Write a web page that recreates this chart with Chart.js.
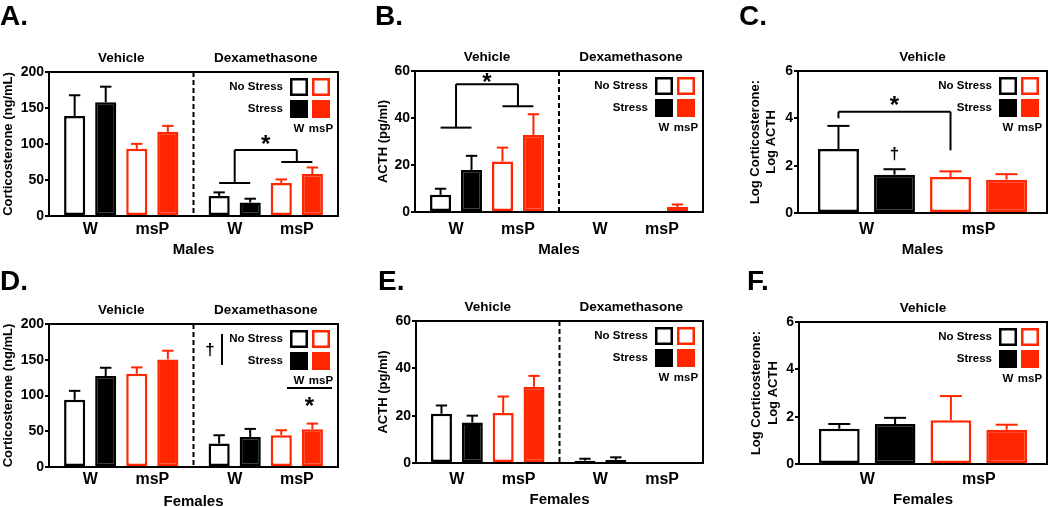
<!DOCTYPE html>
<html>
<head>
<meta charset="utf-8">
<script src="https://cdn.jsdelivr.net/npm/chart.js@4.4.1/dist/chart.umd.min.js"></script>
<style>
  html, body { margin: 0; padding: 0; background: #fff; }
  #fig { position: relative; width: 1050px; height: 507px; overflow: hidden; }
  #fig canvas { position: absolute; }
</style>
</head>
<body>
<div id="fig">
  <canvas id="chartA"></canvas>
  <canvas id="chartB"></canvas>
  <canvas id="chartC"></canvas>
  <canvas id="chartD"></canvas>
  <canvas id="chartE"></canvas>
  <canvas id="chartF"></canvas>
</div>
<script>
// ---- data ----
var treatments = ['Vehicle', 'Dexamethasone'];
var vehicleOnly = ['Vehicle'];
var strains = ['W', 'msP'];
var seriesNames = ['W No Stress', 'W Stress', 'msP No Stress', 'msP Stress'];
var legendRows = ['No Stress', 'Stress'];

// rows: W no stress, W stress, msP no stress, msP stress ; columns follow the treatment list
var maleCortMean = [[139, 27.7], [158, 18.9], [93.3, 45.7], [116.9, 58.2]];
var maleCortSem = [[28.7, 5.1], [21.6, 5.1], [6.9, 5.1], [8.3, 9.2]];
var maleActhMean = [[7.3, 0.3], [17.9, 0.3], [21.5, 0], [32.8, 2.1]];
var maleActhSem = [[2.6, 0], [6.0, 0], [5.9, 0], [8.8, 1.1]];
var maleRatioMean = [[2.70], [1.62], [1.52], [1.41]];
var maleRatioSem = [[0.98], [0.23], [0.24], [0.23]];

var femaleCortMean = [[93.9, 32.7], [127.1, 42.0], [130.4, 44.4], [150.5, 52.8]];
var femaleCortSem = [[12.6, 11.7], [11.7, 11.3], [8.9, 7.0], [12.1, 7.9]];
var femaleActhMean = [[20.8, 1.0], [17.1, 1.3], [21.1, 0], [32.2, 0]];
var femaleActhSem = [[3.5, 0.8], [2.9, 1.1], [7.0, 0], [4.6, 0]];
var femaleRatioMean = [[1.49], [1.69], [1.85], [1.45]];
var femaleRatioSem = [[0.20], [0.26], [1.02], [0.21]];

// ---- style ----
var FONT = "'Liberation Sans', Arial, Helvetica, sans-serif";
var RED = '#ff2600';
var seriesLine = ['#000', '#000', RED, RED];
var seriesFill = ['#fff', '#000', '#fff', RED];

function line(ctx, x1, y1, x2, y2) {
    ctx.beginPath();
    ctx.moveTo(x1, y1);
    ctx.lineTo(x2, y2);
    ctx.stroke();
}

function drawStar(ctx, x, cy) {
    ctx.font = 'bold 24px ' + FONT;
    ctx.textAlign = 'center';
    ctx.textBaseline = 'alphabetic';
    ctx.fillText('*', x, cy + 13.8);
}

function drawDagger(ctx, x, baseline) {
    ctx.font = 'bold 17px ' + FONT;
    ctx.textAlign = 'center';
    ctx.textBaseline = 'alphabetic';
    ctx.fillText('\u2020', x, baseline);
}

function drawExtras(chart, p) {
    var ctx = chart.ctx;
    var a = chart.chartArea;
    var x = chart.scales.x;
    var y = chart.scales.y;
    ctx.save();
    ctx.fillStyle = '#000';
    ctx.strokeStyle = '#000';

    // dashed divider between treatments
    if (p.labels.length > 1) {
        var mx = (x.getPixelForValue(0) + x.getPixelForValue(1)) / 2;
        ctx.lineWidth = 2;
        ctx.setLineDash([5, 3]);
        line(ctx, mx, a.top, mx, a.bottom);
        ctx.setLineDash([]);
    }

    // error bars (upper only)
    p.sem.forEach(function(row, d) {
        var meta = chart.getDatasetMeta(d);
        ctx.strokeStyle = seriesLine[d];
        ctx.lineWidth = 2;
        row.forEach(function(e, c) {
            if (!e) return;
            var bar = meta.data[c];
            var top = y.getPixelForValue(p.mean[d][c] + e);
            var half = bar.width * 0.27;
            line(ctx, bar.x, bar.y, bar.x, top);
            line(ctx, bar.x - half, top, bar.x + half, top);
        });
    });

    // frame
    ctx.strokeStyle = '#000';
    ctx.lineWidth = 2;
    ctx.strokeRect(a.left, a.top, a.right - a.left, a.bottom - a.top);

    // significance brackets
    (p.brackets || []).forEach(function(b) {
        var ends = b.ends.map(function(e) {
            var xs = e.ds.map(function(d) { return chart.getDatasetMeta(d).data[b.cat].x; });
            var ey = y.getPixelForValue(e.y);
            if (xs.length > 1) line(ctx, xs[0], ey, xs[xs.length - 1], ey);
            return { x: (xs[0] + xs[xs.length - 1]) / 2, y: ey };
        });
        var ty = y.getPixelForValue(b.top);
        ends.forEach(function(e) { line(ctx, e.x, e.y, e.x, ty); });
        line(ctx, ends[0].x, ty, ends[1].x, ty);
        drawStar(ctx, (ends[0].x + ends[1].x) / 2, ty - b.starGap);
    });

    (p.marks || []).forEach(function(m) {
        var bar = chart.getDatasetMeta(m.ds).data[m.cat];
        drawDagger(ctx, bar.x, y.getPixelForValue(m.y));
    });

    // strain labels under each pair of bars
    ctx.fillStyle = '#000';
    ctx.font = 'bold 16px ' + FONT;
    ctx.textAlign = 'center';
    ctx.textBaseline = 'middle';
    p.labels.forEach(function(_, c) {
        [[0, 1], [2, 3]].forEach(function(pair, s) {
            var cx = (chart.getDatasetMeta(pair[0]).data[c].x + chart.getDatasetMeta(pair[1]).data[c].x) / 2;
            ctx.fillText(strains[s], cx, a.bottom + p.strainY);
        });
    });
    ctx.font = 'bold 15px ' + FONT;
    ctx.fillText(p.sex, (a.left + a.right) / 2, a.bottom + p.sexY);

    // legend box inside plot
    var sq = 18, gap = 4;
    var rx = a.right - 8 - sq;
    var bx = rx - gap - sq;
    var r1 = a.top + 6;
    var r2 = r1 + sq + gap;
    ctx.lineWidth = 2.5;
    ctx.strokeStyle = '#000';
    ctx.strokeRect(bx + 1.25, r1 + 1.25, sq - 2.5, sq - 2.5);
    ctx.strokeStyle = RED;
    ctx.strokeRect(rx + 1.25, r1 + 1.25, sq - 2.5, sq - 2.5);
    ctx.fillStyle = '#000';
    ctx.fillRect(bx, r2, sq, sq);
    ctx.fillStyle = RED;
    ctx.fillRect(rx, r2, sq, sq);
    ctx.fillStyle = '#000';
    ctx.font = 'bold 11.5px ' + FONT;
    ctx.textAlign = 'right';
    ctx.fillText(legendRows[0], bx - 7, r1 + sq / 2);
    ctx.fillText(legendRows[1], bx - 7, r2 + sq / 2);
    ctx.textAlign = 'center';
    ctx.fillText(strains[0], bx + sq / 2, a.top + 57);
    ctx.fillText(strains[1], rx + sq / 2, a.top + 57);

    if (p.legendNote) {
        ctx.strokeStyle = '#000';
        ctx.lineWidth = 2;
        line(ctx, bx - 68, a.top + 10, bx - 68, a.top + 41);
        drawDagger(ctx, bx - 80, a.top + 31);
        line(ctx, bx - 3, a.top + 64, rx + sq + 2, a.top + 64);
        drawStar(ctx, (bx - 3 + rx + sq + 2) / 2, a.top + 76);
    }

    // panel letter
    ctx.font = 'bold 28px ' + FONT;
    ctx.textAlign = 'left';
    ctx.textBaseline = 'alphabetic';
    ctx.fillText(p.letter, p.letterX, p.letterY);
    ctx.restore();
}

function makePanel(p) {
    var canvas = document.getElementById(p.id);
    canvas.width = p.w;
    canvas.height = p.h;
    canvas.style.left = p.left + 'px';
    canvas.style.top = p.top + 'px';

    return new Chart(canvas.getContext('2d'), {
        type: 'bar',
        data: {
            labels: p.labels,
            datasets: p.mean.map(function(vals, d) {
                return {
                    label: seriesNames[d],
                    data: vals,
                    backgroundColor: seriesFill[d],
                    borderColor: seriesLine[d],
                    borderWidth: 2.5,
                    borderSkipped: false,
                    categoryPercentage: p.catPct || 0.86,
                    barPercentage: p.barPct || 0.68
                };
            })
        },
        options: {
            responsive: false,
            animation: false,
            devicePixelRatio: 1,
            layout: { padding: { left: 0, top: 0, right: p.padR, bottom: p.padB } },
            plugins: { legend: { display: false }, tooltip: { enabled: false } },
            scales: {
                x: {
                    position: 'top',
                    afterFit: function(s) { s.height = p.topH; },
                    grid: { display: false, drawTicks: false },
                    border: { display: false },
                    ticks: {
                        color: '#000',
                        padding: 6,
                        font: { family: FONT, size: 13.5, weight: 'bold' }
                    }
                },
                y: {
                    min: 0,
                    max: p.yMax,
                    afterFit: function(s) { s.width = p.yW; },
                    border: { display: false },
                    grid: { drawOnChartArea: false, drawTicks: true, tickLength: 4, color: '#000', lineWidth: 2 },
                    ticks: {
                        stepSize: p.yStep,
                        color: '#000',
                        padding: 1,
                        font: { family: FONT, size: 14, weight: 'bold' }
                    },
                    title: {
                        display: true,
                        text: p.yTitle,
                        color: '#000',
                        padding: { top: p.yTitlePad, bottom: 0 },
                        font: { family: FONT, size: 13, weight: 'bold', lineHeight: 1.3 }
                    }
                }
            }
        },
        plugins: [{
            id: 'extras',
            afterDatasetsDraw: function(chart) { drawExtras(chart, p); }
        }]
    });
}

makePanel({
    id: 'chartA', left: 0, top: 0, w: 345, h: 262,
    yW: 49, topH: 72, padR: 7, padB: 46,
    labels: treatments, mean: maleCortMean, sem: maleCortSem,
    yMax: 200, yStep: 50, yTitle: 'Corticosterone (ng/mL)', yTitlePad: 0,
    sex: 'Males', strainY: 14, sexY: 34, letter: 'A.', letterX: 0, letterY: 25,
    brackets: [{ cat: 1, ends: [{ ds: [0, 1], y: 45.8 }, { ds: [2, 3], y: 75 }], top: 91.7, starGap: 12 }]
});

makePanel({
    id: 'chartB', left: 345, top: 0, w: 362, h: 262,
    yW: 70, topH: 71, padR: 4, padB: 50,
    labels: treatments, mean: maleActhMean, sem: maleActhSem,
    yMax: 60, yStep: 20, yTitle: 'ACTH (pg/ml)', yTitlePad: 30,
    sex: 'Males', strainY: 18, sexY: 38, letter: 'B.', letterX: 30, letterY: 25,
    brackets: [{ cat: 0, ends: [{ ds: [0, 1], y: 35.9 }, { ds: [2, 3], y: 45 }], top: 54.4, starGap: 8 }]
});

makePanel({
    id: 'chartC', left: 707, top: 0, w: 343, h: 262,
    yW: 91, topH: 71, padR: 3, padB: 49,
    labels: vehicleOnly, mean: maleRatioMean, sem: maleRatioSem,
    yMax: 6, yStep: 2, yTitle: ['Log Corticosterone:', 'Log ACTH'], yTitlePad: 39.5,
    sex: 'Males', strainY: 17, sexY: 37, letter: 'C.', letterX: 32, letterY: 25,
    catPct: 0.9, barPct: 0.73,
    brackets: [{ cat: 0, ends: [{ ds: [0], y: 4.0 }, { ds: [2], y: 2.65 }], top: 4.28, starGap: 12.7 }],
    marks: [{ cat: 0, ds: 1, y: 2.3 }]
});

makePanel({
    id: 'chartD', left: 0, top: 262, w: 345, h: 245,
    yW: 49, topH: 62, padR: 7, padB: 40,
    labels: treatments, mean: femaleCortMean, sem: femaleCortSem,
    yMax: 200, yStep: 50, yTitle: 'Corticosterone (ng/mL)', yTitlePad: 0,
    sex: 'Females', strainY: 13, sexY: 35, letter: 'D.', letterX: 0, letterY: 28,
    legendNote: true
});

makePanel({
    id: 'chartE', left: 345, top: 262, w: 362, h: 245,
    yW: 71, topH: 59, padR: 4, padB: 44,
    labels: treatments, mean: femaleActhMean, sem: femaleActhSem,
    yMax: 60, yStep: 20, yTitle: 'ACTH (pg/ml)', yTitlePad: 30,
    sex: 'Females', strainY: 17, sexY: 37, letter: 'E.', letterX: 33, letterY: 28
});

makePanel({
    id: 'chartF', left: 707, top: 262, w: 343, h: 245,
    yW: 92, topH: 60, padR: 3, padB: 43,
    labels: vehicleOnly, mean: femaleRatioMean, sem: femaleRatioSem,
    yMax: 6, yStep: 2, yTitle: ['Log Corticosterone:', 'Log ACTH'], yTitlePad: 41,
    sex: 'Females', strainY: 16, sexY: 36, letter: 'F.', letterX: 40, letterY: 28,
    catPct: 0.9, barPct: 0.73
});
</script>
</body>
</html>
